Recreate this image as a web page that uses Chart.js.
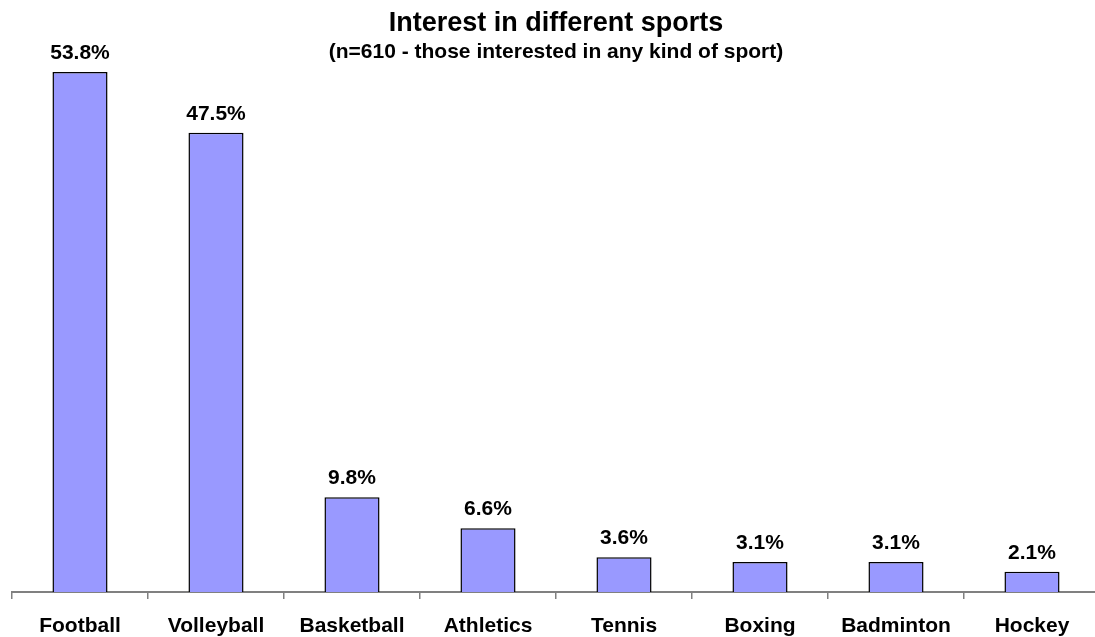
<!DOCTYPE html>
<html>
<head>
<meta charset="utf-8">
<title>Interest in different sports</title>
<script src="https://cdn.jsdelivr.net/npm/chart.js@4.4.0/dist/chart.umd.min.js"></script>
<style>
    html, body { margin: 0; padding: 0; background: #fff; }
    /* the axis runs a few pixels past the right edge, so the canvas is wider and clipped */
    #wrap { width: 1095px; height: 637px; overflow: hidden; }
</style>
</head>
<body>
<div id="wrap"><canvas id="sports-chart" width="1100" height="637"></canvas></div>
<script>
(function () {
    "use strict";

    var categories = ["Football", "Volleyball", "Basketball", "Athletics", "Tennis", "Boxing", "Badminton", "Hockey"];
    var interest = [53.8, 47.5, 9.8, 6.6, 3.6, 3.1, 3.1, 2.1];
    var chartTitle = "Interest in different sports";
    var chartSubtitle = "(n=610 - those interested in any kind of sport)";

    var FONT = "'Liberation Sans', Arial, sans-serif";

    if (typeof Chart === 'undefined') {
        console.error("Chart.js not loaded");
        return;
    }

    Chart.defaults.color = "#000";
    Chart.defaults.font.family = FONT;

    // Title and subtitle centred over the plot area
    var titlePlugin = {
        id: 'titleText',
        afterDraw: function (chart) {
            var ctx = chart.ctx;
            var area = chart.chartArea;
            var cx = (area.left + area.right) / 2;
            ctx.save();
            ctx.fillStyle = "#000";
            ctx.textAlign = "center";
            ctx.textBaseline = "alphabetic";
            ctx.font = "bold 27px " + FONT;
            ctx.fillText(chartTitle, cx, 31);
            ctx.font = "bold 21px " + FONT;
            ctx.fillText(chartSubtitle, cx, 58);
            ctx.restore();
        }
    };

    // Percent labels above each bar
    var valueLabels = {
        id: 'valueLabels',
        afterDatasetsDraw: function (chart) {
            var ctx = chart.ctx;
            var meta = chart.getDatasetMeta(0);
            ctx.save();
            ctx.fillStyle = "#000";
            ctx.font = "bold 21px " + FONT;
            ctx.textAlign = "center";
            ctx.textBaseline = "alphabetic";
            meta.data.forEach(function (bar, i) {
                ctx.fillText(interest[i].toFixed(1) + "%", bar.x, bar.y - 13);
            });
            ctx.restore();
        }
    };

    var ctx1 = document.getElementById("sports-chart").getContext("2d");
    var sportsChart = new Chart(ctx1, {
        type: "bar",
        data: {
            labels: categories,
            datasets: [{
                label: "Interest",
                data: interest,
                backgroundColor: "#9999FF",
                borderColor: "#000",
                borderWidth: 1.5,
                categoryPercentage: 1,
                barPercentage: 0.405
            }]
        },
        options: {
            responsive: false,
            animation: false,
            layout: {
                padding: { left: 12, right: 0, top: 12, bottom: 0 }
            },
            plugins: {
                legend: { display: false },
                tooltip: { enabled: false }
            },
            scales: {
                x: {
                    offset: true,
                    grid: {
                        offset: true,
                        drawOnChartArea: false,
                        drawTicks: true,
                        tickLength: 7,
                        color: "#808080",
                        lineWidth: 1.5
                    },
                    border: { display: true, color: "#808080", width: 2 },
                    ticks: {
                        padding: 15,
                        font: { size: 21, weight: "bold" },
                        color: "#000",
                        maxRotation: 0,
                        autoSkip: false
                    },
                    afterFit: function (scale) {
                        scale.height = 45;
                    }
                },
                y: {
                    display: false,
                    min: 0,
                    max: 60
                }
            }
        },
        plugins: [titlePlugin, valueLabels]
    });
})();
</script>
</body>
</html>
